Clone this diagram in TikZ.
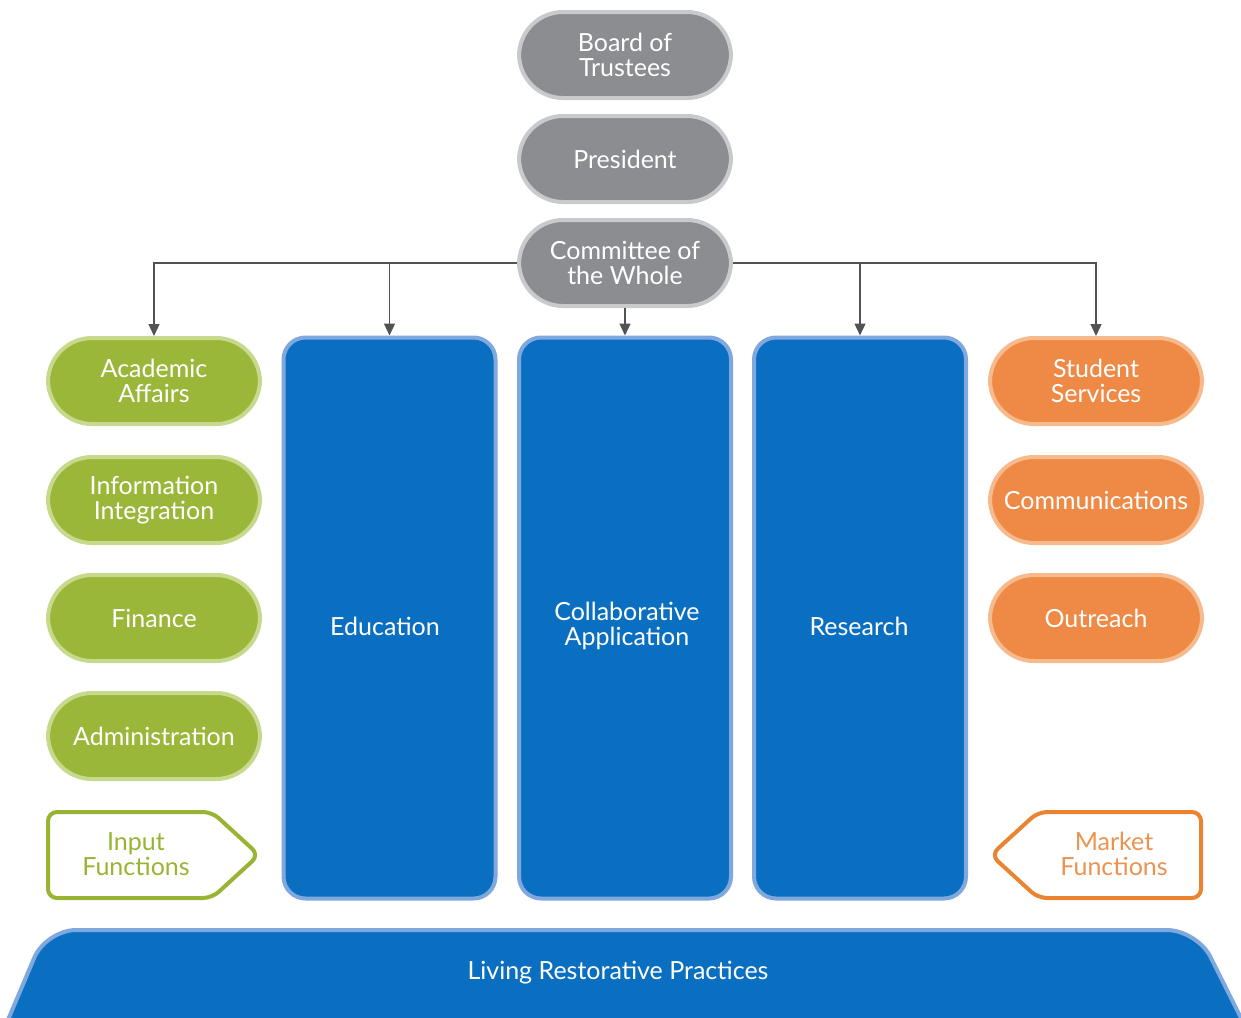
\documentclass[tikz,border=0pt]{standalone}
\usepackage{fontspec}
\setmainfont{Lato}
\usetikzlibrary{arrows.meta}
\definecolor{grayfill}{HTML}{8B8D91}
\definecolor{grayline}{HTML}{C9CACC}
\definecolor{greenfill}{HTML}{9AB73A}
\definecolor{greenline}{HTML}{C6D98C}
\definecolor{greendark}{HTML}{97B532}
\definecolor{orangefill}{HTML}{EE8A45}
\definecolor{orangeline}{HTML}{F6BA8C}
\definecolor{orangedark}{HTML}{EA8430}
\definecolor{orangetext}{HTML}{EC9350}
\definecolor{bluefill}{HTML}{0B6FC1}
\definecolor{blueline}{HTML}{7FA8DE}
\definecolor{arrowgray}{HTML}{505256}
\tikzset{
  bigfont/.style={font=\fontsize{25}{25}\selectfont},
  pill/.style={rectangle, rounded corners=44pt, minimum width=212pt, minimum height=86pt,
    line width=4pt, align=center, text=white, bigfont, inner sep=0pt},
  graypill/.style={pill, fill=grayfill, draw=grayline},
  greenpill/.style={pill, fill=greenfill, draw=greenline},
  orangepill/.style={pill, fill=orangefill, draw=orangeline},
  column/.style={rectangle, rounded corners=22pt, minimum width=212pt, minimum height=561pt,
    line width=4pt, fill=bluefill, draw=blueline, inner sep=0pt},
  conn/.style={draw=arrowgray, line width=1.3pt, -{Triangle[length=12pt,width=11pt]}},
  tagtext/.style={align=center, bigfont, inner sep=0pt}
}
\begin{document}
\begin{tikzpicture}[x=1pt,y=-1pt]
\useasboundingbox (0,0) rectangle (1241,1017);
\clip (0,0) rectangle (1241,1017);
\fill[white] (0,0) rectangle (1241,1017);

% top gray pills
\node[graypill] (bt) at (625,55) {Board of\\Trustees};
\node[graypill] (pr) at (625,159) {President};
\node[graypill] (cw) at (625,263) {Committee of\\the Whole};

% green pills
\node[greenpill] (aa) at (154,381) {Academic\\Affairs};
\node[greenpill] (ii) at (154,500) {Information\\Integration};
\node[greenpill] (fi) at (154,618) {Finance};
\node[greenpill] (ad) at (154,736) {Administration};

% orange pills
\node[orangepill] (ss) at (1096,381) {Student\\Services};
\node[orangepill] (co) at (1096,500) {Communications};
\node[orangepill] (ou) at (1096,618) {Outreach};

% blue columns
\node[column] (ed) at (389.5,618) {};
\node[column] (ca) at (625,618) {};
\node[column] (re) at (860,618) {};
\node[tagtext, text=white] (edt) at (385,626) {Education};
\node[tagtext, text=white] (cat) at (627,626) {Collaborative\\Application};
\node[tagtext, text=white] (ret) at (859,626) {Research};

% input / market functions
\draw[greendark, line width=4pt, rounded corners=9pt, fill=white]
  (48,812) -- (212,812) -- (259,855) -- (212,898) -- (48,898) -- cycle;
\node[tagtext, text=greendark] (inp) at (136,854) {Input\\Functions};
\draw[orangedark, line width=4pt, rounded corners=9pt, fill=white]
  (1201,812) -- (1038,812) -- (991,855) -- (1038,898) -- (1201,898) -- cycle;
\node[tagtext, text=orangetext] (mkt) at (1114,854) {Market\\Functions};

% bottom bar
\draw[blueline, line width=4pt, fill=bluefill, rounded corners=30pt]
  (-9,1060) -- (46,930) -- (1197,930) -- (1262,1060) -- cycle;
\node[tagtext, text=white] (lrp) at (618,973) {Living Restorative Practices};

% connectors
\draw[conn] (cw.west) -| (aa.north);
\draw[conn] (cw.west) -| (ed.north);
\draw[conn] (cw.south) -- (ca.north);
\draw[conn] (cw.east) -| (re.north);
\draw[conn] (cw.east) -| (ss.north);
\end{tikzpicture}
\end{document}
